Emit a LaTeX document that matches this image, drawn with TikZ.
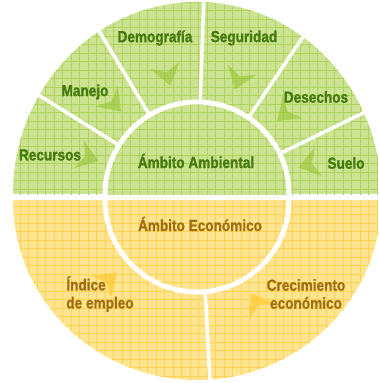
\documentclass[tikz,border=0pt]{standalone}
\usepackage{fontspec}
\setmainfont{Liberation Sans}
\newfontfamily\narrowfont[FakeStretch=0.85, FakeBold=1.2]{Liberation Sans Bold}
\definecolor{ambfill}{HTML}{CCE393}
\definecolor{ambgrid}{HTML}{AED35A}
\definecolor{ambmark}{HTML}{98C434}
\definecolor{ambtext}{HTML}{457A0E}
\definecolor{ecofill}{HTML}{FFE592}
\definecolor{ecogrid}{HTML}{FFD254}
\definecolor{ecomark}{HTML}{FFC41E}
\definecolor{ecotext}{HTML}{A06E0C}
\tikzset{amblabel/.style = {text=ambtext, inner sep=0pt,
                            font=\narrowfont\fontsize{16}{18}\selectfont},
         ecolabel/.style = {amblabel, text=ecotext},
         gap/.style = {white, line width=3.5pt},
         ring/.style = {white, line width=5pt}}
\newcommand{\gridlines}[1]{%
  \foreach \gx in {3,11.5,...,378} \draw[#1, line width=0.5pt] (\gx,0) -- (\gx,383);
  \foreach \gy in {2,10.5,...,383} \draw[#1, line width=0.5pt] (0,\gy) -- (378,\gy);}
\newcommand{\chev}[4]{%
  \fill[#4, opacity=0.6, shift={(#1,#2)}, rotate=#3] (-12,-15) -- (9,0) -- (-12,15) -- (-5,0) -- cycle;}

\begin{document}
\begin{tikzpicture}[x=1pt, y=-1pt]
  \useasboundingbox (0,0) rectangle (378,383);
  % outer green half
  \begin{scope}
    \clip (0,0) rectangle (378,194);
    \clip (197,194) ellipse [x radius=184, y radius=192];
    \fill[ambfill] (0,0) rectangle (378,194);
    \gridlines{ambgrid}
  \end{scope}
  % outer yellow half
  \begin{scope}
    \clip (0,200) rectangle (378,383);
    \clip (197,200) ellipse [x radius=184, y radius=180];
    \fill[ecofill] (0,200) rectangle (378,383);
    \gridlines{ecogrid}
  \end{scope}
  % dividers
  \foreach \a in {-26,-56,-88,-121,-148}
    \draw[gap] (197,194) -- ++(\a:200);
  \draw[gap] (205,285) -- (210,383);
  % chevrons
  \chev{90}{158}{-19}{ambmark}
  \chev{115}{105}{-47}{ambmark}
  \chev{168}{77}{-76}{ambmark}
  \chev{238}{81}{-110}{ambmark}
  \chev{284}{115}{-138}{ambmark}
  \chev{307}{165}{-165}{ambmark}
  \chev{110}{279}{42}{ecomark}
  \chev{256}{301}{120}{ecomark}
  % inner green half
  \begin{scope}
    \clip (0,0) rectangle (378,194);
    \draw[ring, fill=ambfill] (197,194) circle [radius=92];
    \clip (197,194) circle [radius=89.5];
    \gridlines{ambgrid}
  \end{scope}
  % inner yellow half
  \begin{scope}
    \clip (0,200) rectangle (378,383);
    \draw[ring, fill=ecofill] (197,200) circle [radius=92];
    \clip (197,200) circle [radius=89.5];
    \gridlines{ecogrid}
  \end{scope}
  % labels
  \node[amblabel] (recursos)   at (50,155)  {Recursos};
  \node[amblabel] (manejo)     at (85,92)   {Manejo};
  \node[amblabel] (demografia) at (155,38)  {Demografía};
  \node[amblabel] (seguridad)  at (244,38)  {Seguridad};
  \node[amblabel] (desechos)   at (316,97)  {Desechos};
  \node[amblabel] (suelo)      at (346,163) {Suelo};
  \node[amblabel] (ambiental)  at (196,161) {Ámbito Ambiental};
  \node[ecolabel] (economico)  at (200,224) {Ámbito Económico};
  \node[ecolabel, align=left]   (empleo)      at (100,294) {Índice\\de empleo};
  \node[ecolabel, align=center] (crecimiento) at (306,294) {Crecimiento\\económico};
\end{tikzpicture}
\end{document}
